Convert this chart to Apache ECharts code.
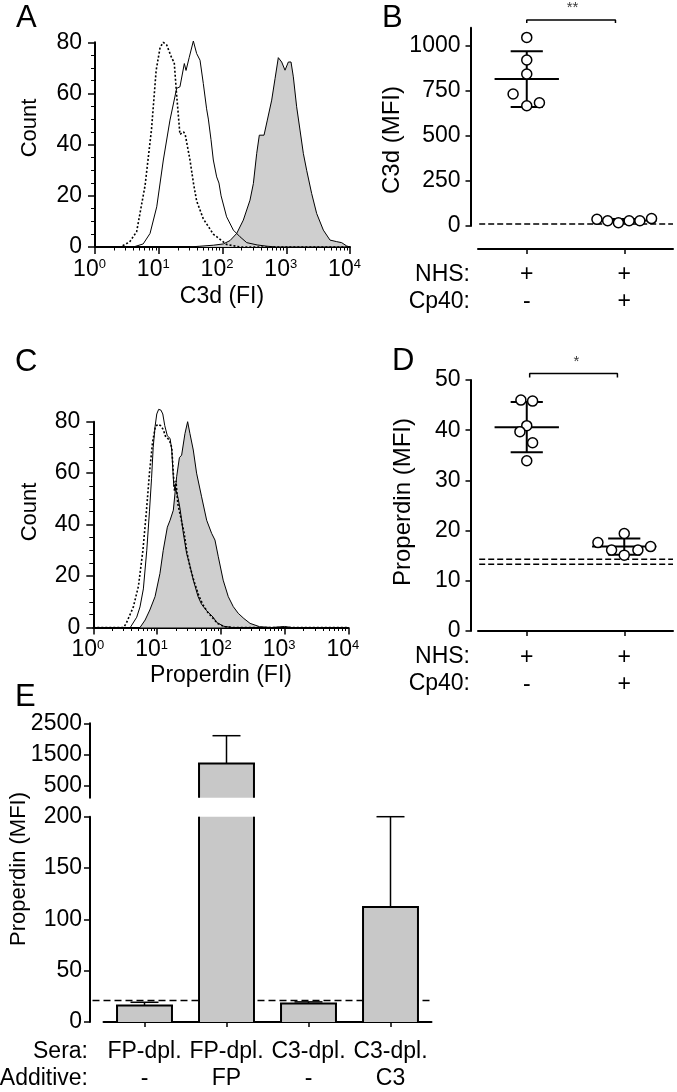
<!DOCTYPE html>
<html><head><meta charset="utf-8">
<script src="https://cdn.jsdelivr.net/npm/echarts@6/dist/echarts.min.js"></script>
<style>html,body{margin:0;padding:0;background:#fff}#c{width:677px;height:1092px}</style>
</head><body><div id="c"></div>
<script>
// ---------- Panel A: C3d histograms, [FI, count] ----------
const aDotted = [[1,0],[2.5,0],[3.5,2],[4.5,6],[6.1,24],[7.7,46],[9.1,69],[10.5,78],[11.8,80],[13.3,79],[15.9,74],[17.5,72],[19,60],[21.5,44],[24.5,45],[26,44],[30.9,34],[35,25],[39.3,18],[50,11],[60,8],[71.8,5],[116,1],[187,0],[10000,0]];
const aSolid = [[1,0],[4,0],[5.7,1.2],[7.3,5.3],[9.3,15.7],[11.8,34],[15,49.6],[19.1,62],[21.5,62.6],[25.2,71.7],[26.8,69],[30,74],[34.9,80.5],[39.3,75.6],[44.4,73],[50,63.9],[56.3,54],[60,50],[66,42],[71.8,34],[81,27.4],[88,25],[95,20],[116,11.8],[148,6.6],[188,4],[240,1.7],[350,0.8],[500,0.3],[700,0],[10000,0]];
const aFilled = [[1,0],[30,0],[44,0.3],[72,0.7],[103,1.2],[131,2.5],[167,5.3],[212,10.5],[270,18.3],[305,24.8],[344,36.6],[378,43.7],[448,43.7],[505,49.6],[591,57.4],[667,65.8],[751,74],[848,72.3],[956,69.1],[1079,72.3],[1188,72.3],[1292,66.5],[1456,54.8],[1644,45.7],[1854,36.6],[2090,30],[2504,20.9],[3000,13.1],[3819,6.6],[4857,2.7],[6180,2.1],[7400,1.7],[8870,0.4],[10000,0]];

// ---------- Panel C: Properdin histograms, [FI, count] ----------
const cDotted = [[1,0],[3,0],[3.3,1.7],[4.25,8],[5.1,16],[6,30],[6.8,45],[7.6,60],[8.5,72],[9.4,78],[10.3,79],[11.3,78.5],[12.5,77],[13.7,74],[15.5,73],[17,70],[18,60],[18.8,53],[19.8,57],[21.2,48],[23,44],[24.5,44.5],[26.5,37],[29.5,29],[33,23.5],[38,18],[45,12.5],[52,9],[62,6],[76,3.5],[90,1.5],[115,0.3],[150,0],[10000,0]];
const cSolid = [[1,0],[3.8,0],[4.8,4],[5.4,8],[6.1,15],[6.9,30],[7.6,45],[8.2,58],[8.7,70],[9.3,78],[9.9,83],[10.6,84.8],[11.5,84.5],[12.3,83],[13.2,78.5],[14.5,74.5],[16,73.5],[17,69],[18.3,55],[19.8,53.5],[21.5,50],[23,46],[25.7,37],[29,29],[32.8,24],[37,18.5],[44,12],[50,9],[60,6.5],[76,4],[86,2],[110,0.5],[150,0],[10000,0]];
const cFilled = [[1,0],[5.4,0],[6.5,2.9],[7.7,6.8],[9.3,12],[11.1,21],[12.5,30],[14.5,39],[16,41.7],[18,45.6],[20.3,58.6],[22.4,66],[24.3,67],[27.4,75.4],[30.2,80],[32.8,75.4],[37,69],[41.7,60],[50,50.8],[60,41.7],[71.8,36.6],[81,34],[91.4,27.5],[109,18.4],[131,12],[157,8.1],[188,5.5],[230,3.5],[288,1.6],[407,0.3],[630,0],[1000,0.4],[1300,0],[10000,0]];

// ---------- Panel B: C3d MFI ----------
const bGroupX = [1, 2];
const bNHS = ['+', '+'];
const bCp40 = ['-', '+'];
const bPoints = [[1.0,1046],[1.0,921],[1.0,843],[0.86,732],[1.0,667],[1.13,684],
                 [1.72,37],[1.83,29],[1.94,18],[2.05,29],[2.16,29],[2.28,41]];
const bMean = [815, 31];
const bSD = [155, 8];
const bBaseline = [11];
const bBracketX = [1.0, 1.91];
const bBracketY = [1126, 1143];
const bStar = {x: 1.47, y: 1210, text: '**'};
const bTicks = [0, 250, 500, 750, 1000];

// ---------- Panel D: Properdin MFI ----------
const dGroupX = [1, 2];
const dPoints = [[0.94,46.0],[1.06,45.8],[1.0,40.9],[0.93,39.7],[1.06,37.5],[1.0,33.9],
                 [1.73,17.6],[1.87,16.1],[2.0,19.4],[2.0,15.1],[2.14,16.1],[2.27,16.8]];
const dMean = [40.6, 16.8];
const dSD = [5.0, 1.6];
const dBaselines = [14.3, 13.3];
const dBracketX = [1.03, 1.93];
const dBracketY = [50.5, 51.3];
const dStar = {x: 1.51, y: 53.6, text: '*'};

// ---------- Panel E: Properdin MFI bars ----------
const eSera = ['FP-dpl.', 'FP-dpl.', 'C3-dpl.', 'C3-dpl.'];
const eAdditive = ['-', 'FP', '-', 'C3'];
const eMean = [16, 1200, 18, 112];
const eSD = [3.2, 900, 1.6, 88];
const eBaseline = [21];
const eUpperTicks = [500, 1500, 2500];
const eLowerMax = 200;

// ---------- helpers ----------
const FONT = "'Liberation Sans', Arial, Helvetica, sans-serif";
const BLACK = '#000';
const axisLineStyle = {color: BLACK, width: 2};
const tickStyle = {color: BLACK, width: 1.5};
const plain = function (v) { return String(v); };

function logLabel(v) {
  const e = Math.round(Math.log10(v));
  return '{b|10}{s|' + e + '}';
}
const logRich = {
  b: {fontSize: 23, fontFamily: FONT, color: BLACK},
  s: {fontSize: 13, fontFamily: FONT, color: BLACK, verticalAlign: 'top'}
};
function histXAxis(gi) {
  return {type: 'log', logBase: 10, gridIndex: gi, min: 1, max: 10000,
    axisLine: {show: true, onZero: false, lineStyle: axisLineStyle},
    axisTick: {show: true, length: 7, lineStyle: tickStyle},
    minorTick: {show: true, splitNumber: 9, length: 3.5, lineStyle: {color: BLACK, width: 1}},
    axisLabel: {formatter: logLabel, rich: logRich, margin: 11, padding: [0, 11, 0, 0]},
    splitLine: {show: false}, minorSplitLine: {show: false}};
}
function histYAxis(gi) {
  return {type: 'value', gridIndex: gi, min: 0, max: 80, interval: 20,
    axisLine: {show: true, lineStyle: axisLineStyle},
    axisTick: {show: true, length: 7, lineStyle: tickStyle},
    minorTick: {show: true, splitNumber: 4, length: 4, lineStyle: {color: BLACK, width: 1}},
    axisLabel: {color: BLACK, fontSize: 23, fontFamily: FONT, margin: 13, formatter: plain},
    splitLine: {show: false}};
}
function histSeries(xi, data, kind) {
  const s = {type: 'line', xAxisIndex: xi, yAxisIndex: xi, data: data, symbol: 'none',
    showSymbol: false, clip: false, smooth: false, silent: true,
    lineStyle: {color: BLACK, width: 1}};
  if (kind === 'filled') { s.areaStyle = {color: '#cfcfcf', opacity: 1}; s.z = 2; }
  if (kind === 'solid') { s.z = 3; }
  if (kind === 'dotted') { s.lineStyle = {color: BLACK, width: 1.6, type: [2, 2]}; s.z = 4; }
  return s;
}
function meanSdItem(params, api) {
  const x = api.value(0), m = api.value(1), sd = api.value(2);
  const pm = api.coord([x, m]), pt = api.coord([x, m + sd]), pb = api.coord([x, m - sd]);
  const w = api.size([1, 0])[0];
  const half = w * 0.33, cap = w * 0.165;
  const st = {stroke: BLACK, lineWidth: 2};
  return {type: 'group', children: [
    {type: 'line', shape: {x1: pm[0] - half, y1: pm[1], x2: pm[0] + half, y2: pm[1]}, style: st},
    {type: 'line', shape: {x1: pt[0], y1: pt[1], x2: pb[0], y2: pb[1]}, style: st},
    {type: 'line', shape: {x1: pt[0] - cap, y1: pt[1], x2: pt[0] + cap, y2: pt[1]}, style: st},
    {type: 'line', shape: {x1: pb[0] - cap, y1: pb[1], x2: pb[0] + cap, y2: pb[1]}, style: st}
  ]};
}
function dotAxes(gi, yMin, yMax, yInterval, yCustom, xOffset, nhs, cp40, groups) {
  const x = {type: 'value', gridIndex: gi, min: 0.5, max: 2.5, position: 'bottom', offset: xOffset,
    axisLine: {show: true, onZero: false, lineStyle: axisLineStyle},
    axisTick: {show: true, length: 5, customValues: groups, lineStyle: tickStyle},
    axisLabel: {show: true, customValues: groups, color: BLACK, fontSize: 23, fontFamily: FONT,
      lineHeight: 27, margin: 12.5,
      formatter: function (v) { const i = groups.indexOf(Math.round(v)); return nhs[i] + '\n' + cp40[i]; }},
    splitLine: {show: false}};
  const y = {type: 'value', gridIndex: gi, min: yMin, max: yMax, offset: 7.5,
    axisLine: {show: true, lineStyle: axisLineStyle},
    axisTick: {show: true, length: 5, lineStyle: tickStyle},
    axisLabel: {color: BLACK, fontSize: 23, fontFamily: FONT, margin: 10, formatter: plain},
    splitLine: {show: false}};
  if (yInterval) y.interval = yInterval;
  if (yCustom) { y.axisTick.customValues = yCustom; y.axisLabel.customValues = yCustom; }
  return [x, y];
}
const [bX, bY] = dotAxes(1, 0, 1100, null, bTicks, 23, bNHS, bCp40, bGroupX);
const [dX, dY] = dotAxes(3, 0, 50, 10, null, 0, bNHS, bCp40, dGroupX);
dX.axisLabel.margin = 13;

function dashedSeries(xi, y, dash) {
  return {type: 'line', xAxisIndex: xi, yAxisIndex: xi, data: [[0.42, y], [2.5, y]], symbol: 'none',
    clip: false, silent: true, z: 1, lineStyle: {color: BLACK, width: 1.5, type: dash}};
}
function bracketSeries(xi, bx, by) {
  return {type: 'line', xAxisIndex: xi, yAxisIndex: xi, symbol: 'none', clip: false, silent: true,
    data: [[bx[0], by[0]], [bx[0], by[1]], [bx[1], by[1]], [bx[1], by[0]]],
    lineStyle: {color: BLACK, width: 1.5}};
}
function starSeries(xi, s) {
  return {type: 'scatter', xAxisIndex: xi, yAxisIndex: xi, clip: false, silent: true, symbolSize: 0.01,
    data: [[s.x, s.y]], label: {show: true, position: 'inside', formatter: s.text, color: BLACK,
      fontSize: 15, fontFamily: FONT}};
}
function pointsSeries(xi, pts) {
  return {type: 'scatter', xAxisIndex: xi, yAxisIndex: xi, data: pts, symbol: 'circle', symbolSize: 10,
    clip: false, z: 5, itemStyle: {color: '#fff', opacity: 1, borderColor: BLACK, borderWidth: 1.5}};
}

// Bars with clipped outline (broken axis); minValue: only values above it are drawn in this segment
function barItemFor(minValue) {
  return function (params, api) {
    const cs = params.coordSys;
    const i = api.value(0), v = api.value(1), sd = api.value(2);
    if (v <= minValue) return {type: 'group', children: []};
    const pTop = api.coord([i, v]);
    const pBase = api.coord([i, 0]);
    const pErr = api.coord([i, v + sd]);
    const bw = api.size([1, 0])[0] * 0.67;
    const x0 = pTop[0] - bw / 2, x1 = pTop[0] + bw / 2, xc = pTop[0];
    const gTop = cs.y, gBot = cs.y + cs.height;
    const top = Math.max(pTop[1], gTop);
    const bot = Math.min(pBase[1], gBot);
    const children = [];
    if (top < bot) {
      children.push({type: 'rect', shape: {x: x0, y: top, width: bw, height: bot - top}, style: {fill: '#c8c8c8'}});
      const st = {stroke: BLACK, lineWidth: 2, fill: null};
      if (pTop[1] >= gTop) {
        children.push({type: 'polyline', shape: {points: [[x0, bot], [x0, top], [x1, top], [x1, bot]]}, style: st});
      } else {
        children.push({type: 'line', shape: {x1: x0, y1: bot, x2: x0, y2: top}, style: st});
        children.push({type: 'line', shape: {x1: x1, y1: bot, x2: x1, y2: top}, style: st});
      }
      if (pErr[1] >= gTop - 1 && pErr[1] <= gBot) {
        const es = {stroke: BLACK, lineWidth: 1.5};
        const capW = 14;
        children.push({type: 'line', shape: {x1: xc, y1: top, x2: xc, y2: pErr[1]}, style: es});
        children.push({type: 'line', shape: {x1: xc - capW, y1: pErr[1], x2: xc + capW, y2: pErr[1]}, style: es});
      }
    }
    return {type: 'group', children: children};
  };
}
function eBaselineItem(params, api) {
  const cs = params.coordSys;
  const p = api.coord([0, api.value(1)]);
  return {type: 'line', shape: {x1: cs.x - 11, y1: p[1], x2: cs.x + cs.width, y2: p[1]},
    style: {stroke: BLACK, lineWidth: 1.5, lineDash: [7, 4]}};
}
const eBarData = eMean.map(function (m, i) { return [i, m, eSD[i]]; });

function txt(text, x, y, size, opts) {
  opts = opts || {};
  return {type: 'text', x: x, y: y, rotation: opts.rot ? Math.PI / 2 : 0, silent: true,
    style: {text: text, fontSize: size, fontFamily: FONT, fill: BLACK,
      align: opts.align || 'center', verticalAlign: 'middle'}};
}

const option = {
  animation: false,
  backgroundColor: '#fff',
  grid: [
    {left: 95, top: 42.3, width: 255, height: 204.7, outerBoundsMode: 'none'},
    {left: 478, top: 27.7, width: 195, height: 198.3, outerBoundsMode: 'none'},
    {left: 93.3, top: 421.7, width: 255, height: 205.8, outerBoundsMode: 'none'},
    {left: 478, top: 380, width: 195, height: 250.9, outerBoundsMode: 'none'},
    {left: 103.5, top: 723.3, width: 328, height: 74.4, outerBoundsMode: 'none'},
    {left: 103.5, top: 816.7, width: 328, height: 205.3, outerBoundsMode: 'none'}
  ],
  xAxis: [
    histXAxis(0), bX, histXAxis(2), dX,
    {type: 'category', gridIndex: 4, data: eSera, show: false},
    {type: 'category', gridIndex: 5, data: eSera,
      axisLine: {show: true, lineStyle: axisLineStyle},
      axisTick: {show: true, alignWithLabel: true, length: 5, lineStyle: tickStyle},
      axisLabel: {interval: 0, color: BLACK, fontSize: 23, fontFamily: FONT, lineHeight: 27, margin: 16.5,
        formatter: function (v, i) { return eSera[i] + '\n' + eAdditive[i]; }},
      splitLine: {show: false}}
  ],
  yAxis: [
    histYAxis(0), bY, histYAxis(2), dY,
    {type: 'value', gridIndex: 4, min: 100, max: 2500, offset: 13.5,
      axisLine: {show: true, lineStyle: axisLineStyle},
      axisTick: {show: true, length: 6, customValues: eUpperTicks, lineStyle: tickStyle},
      axisLabel: {customValues: eUpperTicks, color: BLACK, fontSize: 23, fontFamily: FONT, margin: 8, formatter: plain},
      splitLine: {show: false}},
    {type: 'value', gridIndex: 5, min: 0, max: eLowerMax, interval: 50, offset: 13.5,
      axisLine: {show: true, lineStyle: axisLineStyle},
      axisTick: {show: true, length: 6, lineStyle: tickStyle},
      axisLabel: {color: BLACK, fontSize: 23, fontFamily: FONT, margin: 8, formatter: plain},
      splitLine: {show: false}}
  ],
  series: [
    histSeries(0, aFilled, 'filled'), histSeries(0, aSolid, 'solid'), histSeries(0, aDotted, 'dotted'),
    histSeries(2, cFilled, 'filled'), histSeries(2, cSolid, 'solid'), histSeries(2, cDotted, 'dotted'),
    dashedSeries(1, bBaseline[0], [6, 3]),
    {type: 'custom', xAxisIndex: 1, yAxisIndex: 1, z: 3, silent: true,
      data: bGroupX.map(function (x, i) { return [x, bMean[i], bSD[i]]; }), renderItem: meanSdItem},
    pointsSeries(1, bPoints),
    bracketSeries(1, bBracketX, bBracketY),
    starSeries(1, bStar),
    dashedSeries(3, dBaselines[0], [6, 3]),
    dashedSeries(3, dBaselines[1], [6, 3]),
    {type: 'custom', xAxisIndex: 3, yAxisIndex: 3, z: 3, silent: true,
      data: dGroupX.map(function (x, i) { return [x, dMean[i], dSD[i]]; }), renderItem: meanSdItem},
    pointsSeries(3, dPoints),
    bracketSeries(3, dBracketX, dBracketY),
    starSeries(3, dStar),
    {type: 'custom', xAxisIndex: 5, yAxisIndex: 5, z: 1, silent: true,
      data: [[0, eBaseline[0]]], renderItem: eBaselineItem},
    {type: 'custom', xAxisIndex: 4, yAxisIndex: 4, z: 2, silent: true, data: eBarData, renderItem: barItemFor(eLowerMax)},
    {type: 'custom', xAxisIndex: 5, yAxisIndex: 5, z: 2, silent: true, data: eBarData, renderItem: barItemFor(-Infinity)}
  ],
  graphic: [
    txt('A', 16, 18, 31, {align: 'left'}),
    txt('B', 382, 18, 31, {align: 'left'}),
    txt('C', 15, 362, 31, {align: 'left'}),
    txt('D', 392, 361, 31, {align: 'left'}),
    txt('E', 15, 697, 31, {align: 'left'}),
    txt('Count', 30, 128, 22, {rot: true}),
    txt('C3d (FI)', 222, 297, 23),
    txt('C3d (MFI)', 392.5, 140, 24, {rot: true}),
    txt('Count', 30, 512, 22, {rot: true}),
    txt('Properdin (FI)', 221, 676, 23),
    txt('Properdin (MFI)', 403, 502, 24, {rot: true}),
    txt('Properdin (MFI)', 18.5, 869, 22, {rot: true}),
    txt('NHS:', 470, 275, 23, {align: 'right'}),
    txt('Cp40:', 470, 302, 23, {align: 'right'}),
    txt('NHS:', 470, 657, 23, {align: 'right'}),
    txt('Cp40:', 470, 684, 23, {align: 'right'}),
    txt('Sera:', 88, 1052, 23, {align: 'right'}),
    txt('Additive:', 88, 1079, 23, {align: 'right'})
  ]
};
const chart = echarts.init(document.getElementById('c'), null, {renderer: 'canvas', width: 677, height: 1092});
chart.setOption(option);
</script>
</body></html>
